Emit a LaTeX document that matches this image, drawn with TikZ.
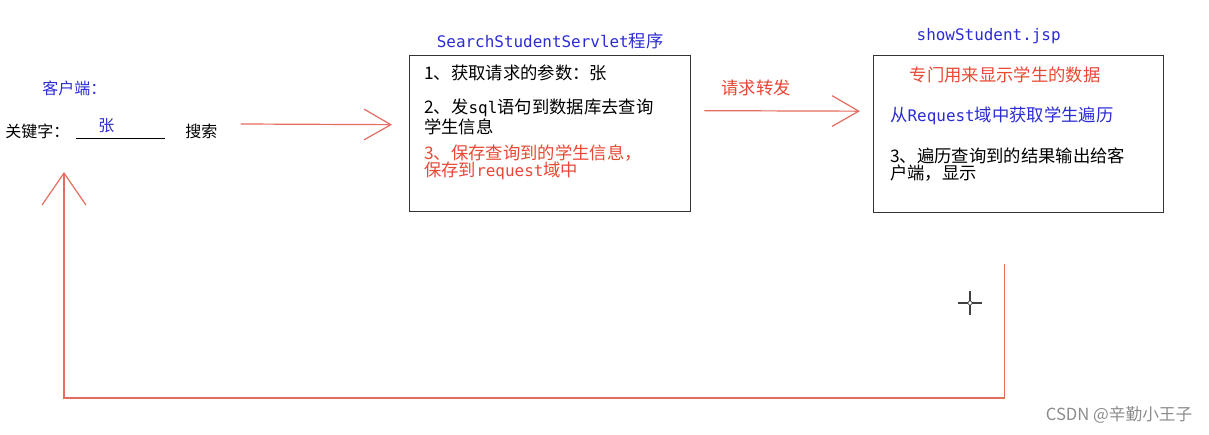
\documentclass[tikz,border=0pt]{standalone}
\usepackage{fontspec}
\setmainfont{Noto Sans CJK SC}
\newfontfamily\lat[Scale=0.92]{DejaVu Sans Mono}
\usetikzlibrary{arrows.meta, positioning}
\definecolor{inkred}{RGB}{232,72,52}
\definecolor{linered}{RGB}{228,108,96}
\definecolor{inkblue}{RGB}{44,44,212}

\begin{document}
\begin{tikzpicture}[x=0.75pt, y=-0.75pt, font=\fontsize{13}{16}\selectfont,
    box/.style={draw=black!80, line width=1pt, anchor=north west},
    txt/.style={anchor=west, inner sep=0pt},
    small/.style={font=\fontsize{12}{14}\selectfont},
    title/.style={text=inkblue, inner sep=0pt},
    flow/.style={draw=linered, line width=0.9pt, -{Straight Barb[length=20pt,width=23pt]}}]
    \useasboundingbox (0,0) rectangle (1209,435);

    % client side
    \node[txt, small, text=inkblue] (client) at (42,88) {客户端：};
    \node[txt, small] (kw) at (5,131) {关键字：};
    \node[txt, small, text=inkblue] (name) at (98,126) {张};
    \draw[line width=0.7pt] (76,138) -- (165,138);
    \node[txt, small] (search) at (185,131) {搜索};

    % servlet
    \node[box, minimum width=210.75pt, minimum height=117pt] (servlet) at (409,55) {};
    \node[title] (servlettitle) [above=4pt of servlet] {{\lat SearchStudentServlet}程序};
    \node[txt] (s1) at (424,73) {1、获取请求的参数：张};
    \node[txt] (s2) at (424,108) {2、发{\lat sql}语句到数据库去查询};
    \node[txt] (s3) at (424,127) {学生信息};
    \node[txt, text=inkred] (s4) at (424,153) {3、保存查询到的学生信息，};
    \node[txt, text=inkred] (s5) at (424,171) {保存到{\lat request}域中};

    % jsp
    \node[box, minimum width=217.5pt, minimum height=117.75pt] (jsp) at (873,55) {};
    \node[title] (jsptitle) [above=8pt of jsp, xshift=-22.5pt] {\lat showStudent.jsp};
    \node[inner sep=0pt, text=inkred] (j1) at (1005,75) {专门用来显示学生的数据};
    \node[txt, text=inkblue] (j2) at (890,116) {从{\lat Request}域中获取学生遍历};
    \node[txt] (j3) at (890,156) {3、遍历查询到的结果输出给客};
    \node[txt] (j4) at (890,173) {户端，显示};

    % arrows
    \draw[flow] ([shift={(23,-7)}]search.east) -- ([shift={(-17,-9)}]servlet.west);
    \draw[flow] ([shift={(13,-23)}]servlet.east) -- ([shift={(-13,-23)}]jsp.west);
    \node[text=inkred, inner sep=0pt] (fwd) at (756,88) {请求转发};

    \coordinate (retstart) at ([shift={(-14,51)}]jsp.south);
    \coordinate (bottom) at (0,398);
    \coordinate (back) at (64,172);
    \draw[draw=linered, line width=0.9pt, -{Straight Barb[length=24pt,width=33pt]}]
        (retstart) -- (retstart |- bottom) -| (back);

    % cursor
    \draw[line width=1pt, black!75] (970,291) -- (970,315) (958,303) -- (982,303);
    \draw[black!75, fill=white] (970,303) circle (1.5pt);

    \node[anchor=east, text=black!45, font=\fontsize{12.5}{14}\selectfont] (mark) at (1197,415) {CSDN @辛勤小王子};
\end{tikzpicture}
\end{document}
